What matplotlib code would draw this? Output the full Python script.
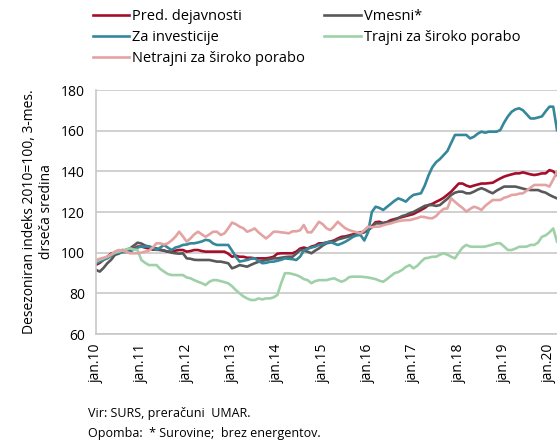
import matplotlib.pyplot as plt
import numpy as np

plt.rcParams['font.family'] = ['Open Sans', 'DejaVu Sans']

# monthly values, jan 2010 - mar 2020
pred_dejavnosti = [
    94, 95, 96.5, 98, 99.5, 100, 100.5, 101.3, 101, 101.3, 102, 103,
    103, 102.5, 102, 101.5, 101.5, 101.3, 101, 100.5, 100.5, 101, 101.3, 101.3,
    100.5, 100.8, 101.3, 101.3, 100.8, 100.5, 100.5, 100.5, 100.5, 100.5, 100.5, 99.5,
    98, 98.5, 98, 98, 97.5, 97.5, 97.2, 97.2, 97.2, 97.2, 97.5, 98,
    99.5, 99.7, 99.7, 99.7, 99.7, 100.5, 102, 102.5, 102, 103, 103.5, 104.6,
    104.6, 105, 105.5, 106, 107, 107.8, 108, 108.5, 109, 109.5, 110, 110.3,
    111, 113, 115, 115.2, 114.5, 115, 116, 116.5, 117, 117.5, 118, 118.5,
    119, 120, 121, 122, 123.4, 124, 125, 125.9, 127, 128.5, 130, 132,
    134, 134, 133, 132.4, 133, 133.5, 134, 134, 134.2, 134.4, 135.5, 136.5,
    137.4, 138, 138.5, 139, 139, 139.5, 139, 138.5, 138.2, 138.5, 139, 139,
    140.6, 140, 138.2,
]
vmesni = [
    91.5, 90.7, 92.5, 94.8, 96.5, 98.9, 99.5, 100.5, 101.5, 102.1, 103.5, 104.9,
    104.5, 103.5, 103, 102.5, 102.1, 101.5, 101, 100.5, 100, 99.7, 99.5, 99.7,
    97.2, 97, 96.5, 96.4, 96.4, 96.4, 96.4, 96, 95.6, 95.6, 95.2, 94.8,
    92.3, 93, 93.9, 93.5, 93.1, 94, 94.8, 95.5, 96, 96.4, 96.8, 97.2,
    97.2, 97.5, 97.8, 98, 98, 99.5, 101.3, 101, 100.5, 99.7, 101, 102.1,
    103.5, 104.6, 105, 105.5, 106.5, 107, 107.5, 108, 108.5, 109, 109.5, 110,
    111, 112.5, 114.4, 114.4, 114.5, 115, 115.2, 116, 117, 118, 118.5, 119.4,
    120, 121, 122, 123, 123.4, 123.4, 123, 123.4, 125, 126.5, 128.4, 129.5,
    130, 130, 129.2, 129.2, 130, 131, 131.7, 131, 130, 129.2, 130.5, 131.5,
    132.5, 132.5, 132.5, 132.5, 132, 131.5, 131, 130.8, 130.8, 130.8, 130, 129.5,
    128.4, 127.5, 126.7,
]
za_investicije = [
    94.8, 95.5, 96.5, 97.2, 98.5, 99.7, 100, 100.2, 100.3, 100.5, 101.5, 102.5,
    103, 103, 103, 102.5, 101.3, 102.5, 103.8, 102.5, 101.3, 102.5, 103, 103.8,
    104, 104.6, 104.6, 105, 105.5, 106.3, 106, 104.5, 103.8, 103.8, 103.8, 103.8,
    101, 98, 95.6, 96, 96.4, 97, 97.2, 96, 94.8, 95, 95.5, 95.6,
    96, 96.5, 97.2, 97, 96.8, 96.4, 98, 101, 102, 102.5, 103, 103.8,
    104.2, 105, 105.4, 104.5, 103.8, 104.5, 105.4, 106.5, 107.8, 108.5, 108.7, 106,
    110, 120, 122.6, 122, 121, 122.5, 124, 125.5, 126.7, 126, 125.1, 127,
    128.4, 128.8, 129.2, 133, 138, 142, 144.5, 146, 148, 150, 154, 157.9,
    157.9, 157.9, 157.9, 156.2, 157, 158.5, 159.5, 159, 159.5, 159.5, 159.5, 160.3,
    164, 167, 169.3, 170.5, 171, 170, 168, 166, 166, 166.5, 167, 169.5,
    171.8, 171.8, 160.3,
]
trajni = [
    95.6, 96.5, 97.2, 98, 99, 100, 100.5, 101, 101.5, 102.1, 101.5, 101.3,
    96.4, 95, 93.9, 93.9, 93.9, 92, 90.7, 89.5, 89, 89, 89, 89,
    87.8, 87.4, 86.5, 85.7, 85, 84.1, 85.7, 86.5, 86.5, 86, 85.5, 84.9,
    83.5, 81.6, 80, 78.5, 77.5, 76.7, 76.7, 77.5, 77, 77.5, 77.5, 78,
    79.2, 85, 89.9, 89.9, 89.5, 89, 88.2, 87, 86.5, 85, 86, 86.5,
    86.5, 86.5, 87, 87.4, 86.5, 85.7, 86.5, 88, 88.2, 88.2, 88.2, 88,
    87.8, 87.4, 87, 86.2, 85.7, 87, 88.5, 89.9, 90.5, 91.5, 93, 93.9,
    92.3, 93.5, 95.5, 97.2, 97.5, 98, 98, 99, 99.7, 99, 98, 97.2,
    100, 102.5, 103.8, 103, 102.9, 102.9, 102.9, 103, 103.5, 104, 104.6, 104.6,
    103, 101.3, 101.3, 102, 102.9, 102.9, 103, 103.8, 103.8, 105, 107.8, 108.5,
    110, 111.9, 105.4,
]
netrajni = [
    96.4, 97, 97.5, 98, 99, 100.5, 101.3, 101, 100.5, 99.7, 99.7, 99.7,
    100, 100.5, 101, 102.5, 104.6, 104.6, 104, 104.6, 106, 107.8, 110.3, 108,
    105.4, 107, 109, 110.3, 109, 107.8, 109, 110.3, 110.3, 108.7, 109.5, 112,
    114.8, 114, 112.8, 112, 110.3, 111, 111.9, 110, 108.5, 107, 108.5, 110.3,
    110.3, 110, 109.8, 109.5, 110.5, 110.5, 111, 113.6, 110, 110, 112.5, 115.2,
    114, 112, 111.1, 113, 115.2, 113.5, 112, 111.1, 110.5, 110, 109.5, 111,
    112.8, 112.5, 112.8, 112.8, 113.5, 114, 114.4, 115, 115.5, 115.8, 116, 116,
    116.5, 117, 117.7, 117.5, 117, 116.9, 118, 120, 121.5, 121.8, 126.7, 125,
    123.4, 122, 120.2, 121.5, 122.6, 122, 121, 123, 124.5, 125.9, 125.9, 125.9,
    127, 127.5, 128.4, 128.5, 129, 129.2, 130.5, 132, 133.3, 133.3, 133.3, 133.3,
    132.5, 136, 139.8,
]
tick_labels = ['jan.10', 'jan.11', 'jan.12', 'jan.13', 'jan.14', 'jan.15',
               'jan.16', 'jan.17', 'jan.18', 'jan.19', 'jan.20']

fig = plt.figure(figsize=(5.57, 4.44), dpi=100)
ax = fig.add_axes([96 / 557, 1 - 334 / 444, 1 - 96 / 557, (334 - 90) / 444])

x = np.arange(len(pred_dejavnosti))
lw = 1.9
l_pred, = ax.plot(x, pred_dejavnosti, color='#a50e2a', lw=lw, label='Pred. dejavnosti')
l_vm, = ax.plot(x, vmesni, color='#595959', lw=lw, label='Vmesni*')
l_inv, = ax.plot(x, za_investicije, color='#35879a', lw=lw, label='Za investicije')
l_tr, = ax.plot(x, trajni, color='#9fd1a9', lw=lw, label='Trajni za široko porabo')
l_ne, = ax.plot(x, netrajni, color='#e3a3a2', lw=lw, label='Netrajni za široko porabo')

ax.set_xlim(0, len(x) - 1)
ax.set_ylim(60, 180)
ax.set_yticks(range(60, 181, 20))
ax.set_xticks(np.arange(0, len(x), 12))
ax.set_xticklabels(tick_labels, rotation=90, va='top', ha='center')
ax.tick_params(axis='both', length=0, labelsize=10, colors='black')
ax.tick_params(axis='y', pad=8)
ax.tick_params(axis='x', pad=7)

ax.grid(axis='y', color='#c8c8c8', lw=1.2)
ax.set_axisbelow(True)
for s in ['top', 'right']:
    ax.spines[s].set_visible(False)
for s in ['left', 'bottom']:
    ax.spines[s].set_color('#c8c8c8')
    ax.spines[s].set_linewidth(1.2)

fig.text(38 / 557, 1 - 212 / 444, 'Desezoniran indeks 2010=100, 3-mes.\ndrseča sredina',
         rotation=90, ha='center', va='center', fontsize=10, linespacing=1.15)

fig.legend(handles=[l_pred, l_inv, l_ne, l_vm, l_tr], ncol=2, frameon=False,
           loc='upper left', bbox_to_anchor=(93 / 557, 1 - 9 / 444),
           fontsize=10.5, handlelength=2.5, handletextpad=0.2,
           columnspacing=1.3, labelspacing=0.42, borderaxespad=0, borderpad=0)

fig.text(88 / 557, 1 - 413 / 444, 'Vir: SURS, preračuni  UMAR.', fontsize=9, va='center')
fig.text(88 / 557, 1 - 433 / 444, 'Opomba:  * Surovine;  brez energentov.', fontsize=9, va='center')

fig.savefig('out.png', dpi=100)
